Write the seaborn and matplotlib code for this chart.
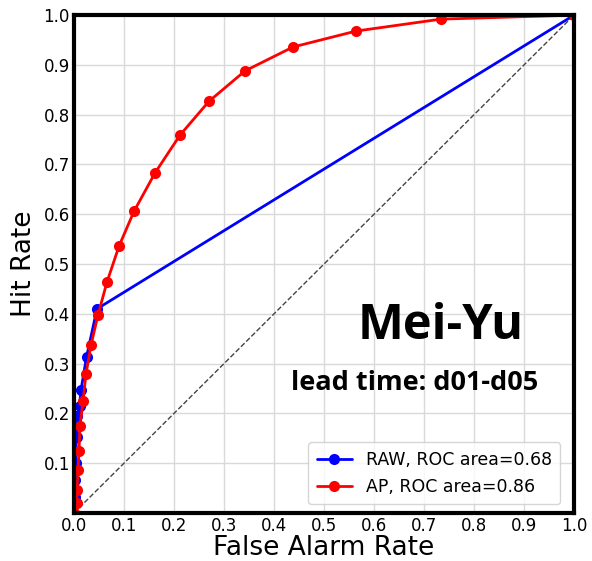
import numpy as np
import pandas as pd
import matplotlib
matplotlib.use("Agg")
import matplotlib.pyplot as plt
import seaborn as sns

# ROC points
raw_far = [0.0, 0.001, 0.002, 0.003, 0.005, 0.006, 0.011, 0.014, 0.025, 0.046, 1.0]
raw_hit = [0.0, 0.032, 0.066, 0.10, 0.153, 0.195, 0.215, 0.247, 0.313, 0.41, 1.0]

ap_far = [0.0, 0.005, 0.006, 0.008, 0.01, 0.012, 0.018, 0.024, 0.034, 0.048, 0.066,
          0.09, 0.12, 0.162, 0.212, 0.27, 0.342, 0.438, 0.564, 0.734, 1.0]
ap_hit = [0.0, 0.02, 0.046, 0.086, 0.125, 0.175, 0.225, 0.279, 0.337, 0.398, 0.464,
          0.536, 0.606, 0.683, 0.759, 0.827, 0.888, 0.936, 0.968, 0.992, 1.0]

raw_label = "RAW, ROC area=0.68"
ap_label = "AP, ROC area=0.86"
x_ticks = [0.0, 0.1, 0.2, 0.3, 0.4, 0.5, 0.6, 0.7, 0.8, 0.9, 1.0]
y_ticks = [0.1, 0.2, 0.3, 0.4, 0.5, 0.6, 0.7, 0.8, 0.9, 1.0]

df = pd.concat([
    pd.DataFrame({"far": raw_far, "hit": raw_hit, "model": raw_label}),
    pd.DataFrame({"far": ap_far, "hit": ap_hit, "model": ap_label}),
])

sns.set_style("whitegrid")
plt.rcParams["font.family"] = ["DejaVu Sans"]
plt.rcParams["text.color"] = "black"
plt.rcParams["axes.labelcolor"] = "black"
plt.rcParams["xtick.color"] = "black"
plt.rcParams["ytick.color"] = "black"

fig = plt.figure(figsize=(5.92, 5.61), dpi=100)
ax = fig.add_axes([0.125, 0.0856, 0.8446, 0.8874])

ax.plot([0, 1], [0, 1], ls="--", color="#444444", lw=1, zorder=1)
sns.lineplot(data=df, x="far", y="hit", hue="model", sort=False,
             palette={raw_label: "blue", ap_label: "red"},
             marker="o", markersize=8, markeredgewidth=0, lw=2, ax=ax)

ax.set_xlim(0, 1)
ax.set_ylim(0, 1)
ax.set_xticks(x_ticks)
ax.set_yticks(y_ticks)
ax.tick_params(labelsize=12, length=0, pad=3)
ax.grid(color="#d9d9d9", lw=1)
for s in ax.spines.values():
    s.set_color("black")
    s.set_linewidth(3)

ax.set_xlabel("False Alarm Rate", fontsize=19, labelpad=0)
ax.set_ylabel("Hit Rate", fontsize=19, labelpad=5)

ax.legend(title=None, loc="lower right", fontsize=12.5, frameon=True,
          bbox_to_anchor=(0.99, 0.0), borderpad=0.5)

ax.text(0.734, 0.375, "Mei-Yu", transform=ax.transAxes, ha="center", va="center",
        fontsize=35, fontweight="bold", color="black", family=["Open Sans", "DejaVu Sans"])
ax.text(0.682, 0.262, "lead time: d01-d05", transform=ax.transAxes, ha="center",
        va="center", fontsize=19.5, fontweight="bold", color="black",
        family=["Open Sans", "DejaVu Sans"])

fig.savefig("out.png", dpi=100)
